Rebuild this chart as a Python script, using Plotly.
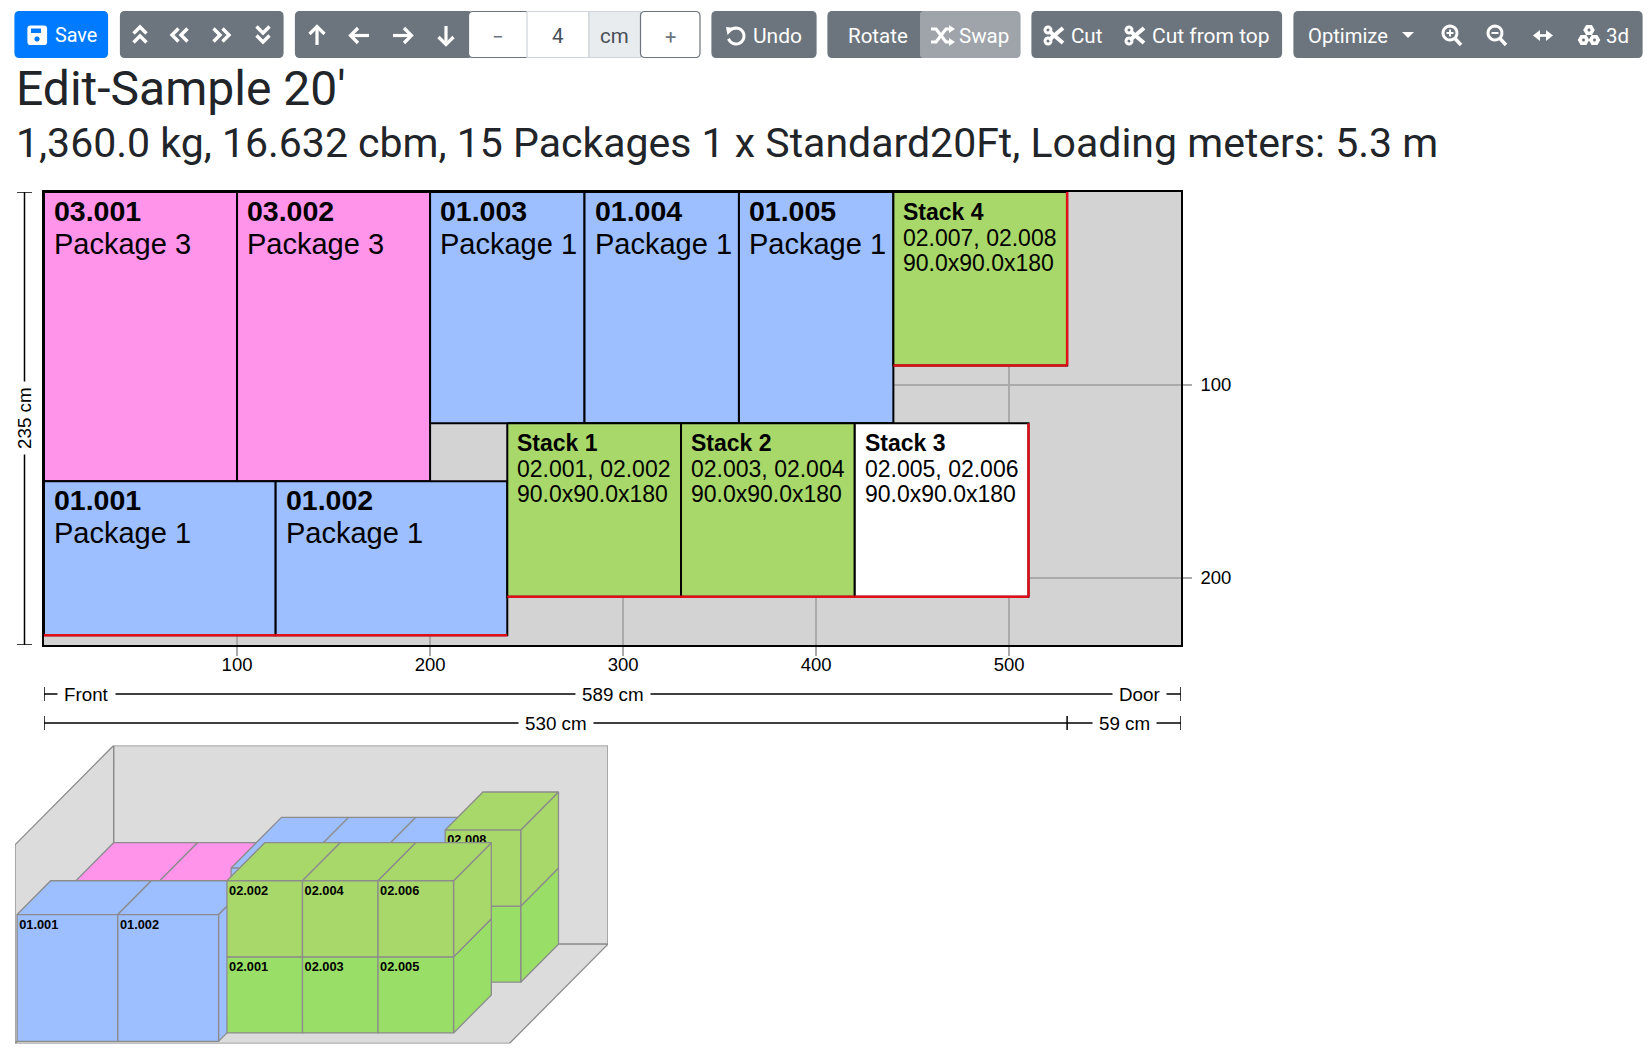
import numpy as np
import plotly.graph_objects as go

W, H = 1652, 1051

# packages, all in cm. y is measured from the top wall of the container in the plan
pkg_names = ['03.001', '03.002', '01.003', '01.004', '01.005', '01.001', '01.002']
pkg_types = ['Package 3', 'Package 3', 'Package 1', 'Package 1', 'Package 1', 'Package 1', 'Package 1']
pkg_x = [0, 100, 200, 280, 360, 0, 120]
pkg_y = [0, 0, 0, 0, 0, 150, 150]
pkg_len = [100, 100, 80, 80, 80, 120, 120]
pkg_wid = [150, 150, 120, 120, 120, 80, 80]
pkg_hgt = [120, 120, 150, 150, 150, 150, 150]
pkg_col = ['#ff94ea', '#ff94ea', '#9dbfff', '#9dbfff', '#9dbfff', '#9dbfff', '#9dbfff']

stack_names = ['Stack 1', 'Stack 2', 'Stack 3', 'Stack 4']
stack_items = ['02.001, 02.002', '02.003, 02.004', '02.005, 02.006', '02.007, 02.008']
stack_size = ['90.0x90.0x180', '90.0x90.0x180', '90.0x90.0x180', '90.0x90.0x180']
stack_x = [240, 330, 420, 440]
stack_y = [120, 120, 120, 0]
stack_len = [90, 90, 90, 90]
stack_wid = [90, 90, 90, 90]
stack_col = ['#a8d86a', '#a8d86a', '#ffffff', '#a8d86a']
# the 3d view only shows the labels that are not hidden by a box in front
stack_ids_low = ['02.001', '02.003', '02.005', '']
stack_ids_up = ['02.002', '02.004', '02.006', '02.008']
box_h = 90

cont_len, cont_wid, cont_hgt = 589, 235, 235
load_len = 530
free_len = 59
x_ticks = [100, 200, 300, 400, 500]
y_ticks = [100, 200]

GREEN_LOW = '#99df67'
GREEN_UP = '#a8d86a'
UI = 'Roboto'
CHART = 'Liberation Sans'
GREY = '#6c757d'


def X(p):
    return p / W


def Y(p):
    return 1 - p / H


fig = go.Figure()
shapes = []
notes = []


def rect_trace(x0, y0, l, w, col):
    fig.add_trace(go.Scatter(x=[x0, x0 + l, x0 + l, x0, x0], y=[y0, y0, y0 + w, y0 + w, y0],
                             mode='lines', fill='toself', fillcolor=col,
                             line=dict(color='black', width=2), hoverinfo='skip', xaxis='x', yaxis='y'))


def red_line(xs, ys):
    fig.add_trace(go.Scatter(x=xs, y=ys, mode='lines', line=dict(color='#e0101a', width=2.5),
                             hoverinfo='skip', xaxis='x', yaxis='y'))


def label(x, y, dx, dy, txt, size, bold=False):
    notes.append(dict(x=x, y=y, xref='x', yref='y', xshift=dx, yshift=-dy, text=txt, showarrow=False,
                      xanchor='left', yanchor='middle',
                      font=dict(family=CHART, size=size, color='black', weight='bold' if bold else 'normal')))


# container floor goes under the gridlines, otherwise it would hide them
shapes.append(dict(type='rect', xref='x', yref='y', x0=0, x1=cont_len, y0=0, y1=cont_wid, layer='below',
                   fillcolor='#d3d3d3', line=dict(width=0)))

# plan view
order = [0, 1, 2, 3, 4, 5, 6]
for i in order:
    rect_trace(pkg_x[i], pkg_y[i], pkg_len[i], pkg_wid[i], pkg_col[i])
    label(pkg_x[i], pkg_y[i], 8, 19, pkg_names[i], 28.5, True)
    label(pkg_x[i], pkg_y[i], 8, 51.5, pkg_types[i], 29)
for i in range(len(stack_names)):
    rect_trace(stack_x[i], stack_y[i], stack_len[i], stack_wid[i], stack_col[i])
    label(stack_x[i], stack_y[i], 8, 20, stack_names[i], 23, True)
    label(stack_x[i], stack_y[i], 8, 46, stack_items[i], 23)
    label(stack_x[i], stack_y[i], 8, 71, stack_size[i], 23)

# the red edge marks the door side of each block
for i in [5, 6]:
    red_line([pkg_x[i], pkg_x[i] + pkg_len[i]], [pkg_y[i] + pkg_wid[i]] * 2)
for i in range(len(stack_names)):
    red_line([stack_x[i], stack_x[i] + stack_len[i]], [stack_y[i] + stack_wid[i]] * 2)
for i in [2, 3]:
    red_line([stack_x[i] + stack_len[i]] * 2, [stack_y[i], stack_y[i] + stack_wid[i]])


# 3d view: oblique projection, depth goes half up and half right
def proj(x, y, z):
    d = cont_wid - y
    return x + d / 2, z + d / 2


def face(pts, col):
    uv = [proj(*p) for p in pts + pts[:1]]
    fig.add_trace(go.Scatter(x=[a for a, b in uv], y=[b for a, b in uv], mode='lines', fill='toself',
                             fillcolor=col, line=dict(color='#8c8c8c', width=1.3), hoverinfo='skip',
                             xaxis='x2', yaxis='y2'))


def box3d(x, y, z, l, w, h, col, name=''):
    x1, y1, z1 = x + l, y + w, z + h
    face([(x1, y1, z), (x1, y, z), (x1, y, z1), (x1, y1, z1)], col)
    face([(x, y1, z1), (x1, y1, z1), (x1, y, z1), (x, y, z1)], col)
    face([(x, y1, z), (x1, y1, z), (x1, y1, z1), (x, y1, z1)], col)
    if name:
        u, v = proj(x, y1, z1)
        fig.add_trace(go.Scatter(x=[u + 2.5], y=[v - 5.5], mode='text', text=[name], textposition='bottom right',
                                 textfont=dict(family=CHART, size=12.8, color='black', weight='bold'),
                                 hoverinfo='skip', xaxis='x2', yaxis='y2'))


WALL = '#dcdcdc'
face([(0, 0, 0), (cont_len, 0, 0), (cont_len, 0, cont_hgt), (0, 0, cont_hgt)], WALL)
face([(0, 0, 0), (0, cont_wid, 0), (0, cont_wid, cont_hgt), (0, 0, cont_hgt)], WALL)
face([(0, cont_wid, 0), (cont_len, cont_wid, 0), (cont_len, 0, 0), (0, 0, 0)], WALL)

for i in [0, 1, 2, 3, 4]:
    box3d(pkg_x[i], pkg_y[i], 0, pkg_len[i], pkg_wid[i], pkg_hgt[i], pkg_col[i])
for s in [3]:
    box3d(stack_x[s], stack_y[s], 0, stack_len[s], stack_wid[s], box_h, GREEN_LOW, stack_ids_low[s])
    box3d(stack_x[s], stack_y[s], box_h, stack_len[s], stack_wid[s], box_h, GREEN_UP, stack_ids_up[s])
for i in [5, 6]:
    box3d(pkg_x[i], pkg_y[i], 0, pkg_len[i], pkg_wid[i], pkg_hgt[i], pkg_col[i], pkg_names[i])
for s in [0, 1, 2]:
    box3d(stack_x[s], stack_y[s], 0, stack_len[s], stack_wid[s], box_h, GREEN_LOW, stack_ids_low[s])
    box3d(stack_x[s], stack_y[s], box_h, stack_len[s], stack_wid[s], box_h, GREEN_UP, stack_ids_up[s])


# dimension lines under and left of the plan
def dim_h(x0, x1, py):
    shapes.append(dict(type='line', xref='x', yref='paper', x0=x0, x1=x1, y0=Y(py), y1=Y(py),
                       line=dict(color='black', width=1.5)))


def dim_tick(x, py):
    shapes.append(dict(type='line', xref='x', yref='paper', x0=x, x1=x, y0=Y(py - 7), y1=Y(py + 7),
                       line=dict(color='black', width=1.5)))


def dim_text(x, py, txt, dx=0, anchor='center'):
    notes.append(dict(x=x, y=Y(py), xref='x', yref='paper', xshift=dx, text=txt, showarrow=False,
                      xanchor=anchor, yanchor='middle', bgcolor='white', borderpad=6,
                      font=dict(family=CHART, size=18.8, color='black')))


DIM1, DIM2 = 694, 723
dim_h(0, cont_len, DIM1)
dim_tick(0, DIM1)
dim_tick(cont_len, DIM1)
dim_text(cont_len / 2, DIM1, '%d cm' % cont_len)
dim_text(0, DIM1, 'Front', 13, 'left')
dim_text(cont_len, DIM1, 'Door', -14, 'right')
dim_h(0, cont_len, DIM2)
dim_tick(0, DIM2)
dim_tick(load_len, DIM2)
dim_tick(cont_len, DIM2)
dim_text(load_len / 2, DIM2, '%d cm' % load_len)
dim_text(load_len + free_len / 2, DIM2, '%d cm' % free_len)

shapes.append(dict(type='line', xref='paper', yref='y', x0=X(24.5), x1=X(24.5), y0=0, y1=cont_wid,
                   line=dict(color='black', width=1.5)))
for v in [0, cont_wid]:
    shapes.append(dict(type='line', xref='paper', yref='y', x0=X(17), x1=X(32), y0=v, y1=v,
                       line=dict(color='black', width=1.5)))
notes.append(dict(x=X(24.5), y=cont_wid / 2, xref='paper', yref='y', text='%d cm' % cont_wid, textangle=-90,
                  showarrow=False, bgcolor='white', borderpad=5, xanchor='center', yanchor='middle',
                  font=dict(family=CHART, size=18.8, color='black')))


# page chrome above the chart: buttons, headings
def round_rect(x0, y0, x1, y1, col, line=None, r=4.5):
    p = 'M%f,%f L%f,%f Q%f,%f %f,%f L%f,%f Q%f,%f %f,%f L%f,%f Q%f,%f %f,%f L%f,%f Q%f,%f %f,%f Z' % (
        X(x0 + r), Y(y0), X(x1 - r), Y(y0), X(x1), Y(y0), X(x1), Y(y0 + r),
        X(x1), Y(y1 - r), X(x1), Y(y1), X(x1 - r), Y(y1),
        X(x0 + r), Y(y1), X(x0), Y(y1), X(x0), Y(y1 - r),
        X(x0), Y(y0 + r), X(x0), Y(y0), X(x0 + r), Y(y0))
    shapes.append(dict(type='path', xref='paper', yref='paper', path=p, fillcolor=col,
                       line=dict(color=line or col, width=1.2)))


def stroke(pts, w=3, col='white'):
    p = 'M' + ' L'.join('%f,%f' % (X(a), Y(b)) for a, b in pts)
    shapes.append(dict(type='path', xref='paper', yref='paper', path=p, line=dict(color=col, width=w)))


def fill(pts, col='white'):
    p = 'M' + ' L'.join('%f,%f' % (X(a), Y(b)) for a, b in pts) + ' Z'
    shapes.append(dict(type='path', xref='paper', yref='paper', path=p, fillcolor=col, line=dict(width=0)))


def arc(cx, cy, r, a0=0, a1=360, n=24):
    t = np.radians(np.linspace(a0, a1, n))
    return [(cx + r * np.cos(k), cy + r * np.sin(k)) for k in t]


def ui_text(px, py, txt, size=20.5, col='white', anchor='left'):
    notes.append(dict(x=X(px), y=Y(py), xref='paper', yref='paper', text=txt, showarrow=False, xanchor=anchor,
                      yanchor='middle', font=dict(family=UI, size=size, color=col)))


TOP, BOT, MID = 11.5, 57.5, 35.5
round_rect(15, TOP, 107.5, BOT, '#007bff')
round_rect(120.5, TOP, 283, BOT, GREY)
round_rect(295.5, TOP, 472, BOT, GREY)
round_rect(712, TOP, 816, BOT, GREY)
round_rect(828, TOP, 925, BOT, GREY)
round_rect(920, TOP, 1020, BOT, '#9ea4aa')
shapes.append(dict(type='rect', xref='paper', yref='paper', x0=X(915), x1=X(920), y0=Y(BOT), y1=Y(TOP),
                   fillcolor=GREY, line=dict(width=0)))
round_rect(1032, TOP, 1281.5, BOT, GREY)
round_rect(1294, TOP, 1642, BOT, GREY)

# number input
round_rect(468.5, TOP, 530, BOT, 'white', GREY)
shapes.append(dict(type='rect', xref='paper', yref='paper', x0=X(527), x1=X(589), y0=Y(BOT), y1=Y(TOP),
                   fillcolor='white', line=dict(color='#ced4da', width=1.2)))
shapes.append(dict(type='rect', xref='paper', yref='paper', x0=X(589), x1=X(640.5), y0=Y(BOT), y1=Y(TOP),
                   fillcolor='#e9ecef', line=dict(color='#ced4da', width=1.2)))
round_rect(640.5, TOP, 700, BOT, 'white', GREY)
ui_text(497.5, MID + 1, '−', 20, '#6c757d', 'center')
ui_text(557.5, MID, '4', 20.5, '#495057', 'center')
ui_text(614.5, MID, 'cm', 20.5, '#495057', 'center')
ui_text(670, MID + 1, '+', 20, '#6c757d', 'center')

# floppy
round_rect(28, 26, 46.5, 44.5, 'white', r=2.5)
fill([(31, 28.5), (41, 28.5), (41, 33), (31, 33)], '#007bff')
fill(arc(37, 39, 2.6), '#007bff')
ui_text(52.5, MID, 'Save', 19.8)

# chevrons
for dy in (-5, 4):
    stroke([(133.5, 35 + dy + 3.5), (140, 35 + dy - 3), (146.5, 35 + dy + 3.5)], 3.4)
    stroke([(256.5, 35 + dy - 3.5), (263, 35 + dy + 3), (269.5, 35 + dy - 3.5)], 3.4)
for dx in (-5, 4):
    stroke([(180 + dx + 3.5, 28.5), (180 + dx - 3, 35), (180 + dx + 3.5, 41.5)], 3.4)
    stroke([(222 + dx - 3.5, 28.5), (222 + dx + 3, 35), (222 + dx - 3.5, 41.5)], 3.4)

# arrows
stroke([(317, 45), (317, 27)], 3.2)
stroke([(309.5, 34), (317, 26.5), (324.5, 34)], 3.2)
stroke([(369, 35.5), (351, 35.5)], 3.2)
stroke([(358, 28), (350.5, 35.5), (358, 43)], 3.2)
stroke([(393, 35.5), (411, 35.5)], 3.2)
stroke([(404, 28), (411.5, 35.5), (404, 43)], 3.2)
stroke([(446, 26), (446, 44)], 3.2)
stroke([(438.5, 37), (446, 44.5), (453.5, 37)], 3.2)

# undo
stroke(arc(736, 36, 8, -130, 160), 3)
fill([(726, 27), (734.5, 28), (727.5, 35)])
ui_text(751, MID, 'Undo', 21)
ui_text(846, MID, 'Rotate')

# swap
stroke([(931, 29), (936, 29), (946, 42), (950, 42)], 3.2)
stroke([(931, 42), (936, 42), (946, 29), (950, 29)], 3.2)
fill([(949, 25), (955, 29), (949, 33)])
fill([(949, 38), (955, 42), (949, 46)])
ui_text(957, MID, 'Swap')


def scissors(cx):
    stroke([(cx - 5, 31), (cx + 9, 43)], 4)
    stroke([(cx - 5, 40), (cx + 9, 28)], 4)
    stroke(arc(cx - 6, 30, 3), 3)
    stroke(arc(cx - 6, 41, 3), 3)


scissors(1054)
ui_text(1069, MID, 'Cut')
scissors(1135)
ui_text(1149.5, MID, 'Cut from top', 21)

ui_text(1306, MID, 'Optimize', 20.2)
fill([(1402, 32), (1414, 32), (1408, 38)])


def lens(cx, sym):
    stroke(arc(cx - 1, 33, 7), 3)
    stroke([(cx + 4, 38.5), (cx + 10, 45)], 3.4)
    stroke([(cx - 4.5, 33), (cx + 2.5, 33)], 2)
    if sym == '+':
        stroke([(cx - 1, 29.5), (cx - 1, 36.5)], 2)


lens(1451, '+')
lens(1496, '-')
stroke([(1535, 35.5), (1551, 35.5)], 2.6)
fill([(1540, 30), (1533, 35.5), (1540, 41)])
fill([(1546, 30), (1553, 35.5), (1546, 41)])
for a, b in [(1589, 30), (1583.5, 40), (1594.5, 40)]:
    fill(arc(a, b, 5.8, n=7))
    fill(arc(a, b, 1.6, n=7), GREY)
ui_text(1604, MID, '3d')

notes.append(dict(x=X(14), y=Y(89), xref='paper', yref='paper', text="Edit-Sample 20'", showarrow=False,
                  xanchor='left', yanchor='middle', font=dict(family=UI, size=48, color='#212529')))
notes.append(dict(x=X(14), y=Y(142.5), xref='paper', yref='paper',
                  text='1,360.0 kg, 16.632 cbm, 15 Packages 1 x Standard20Ft, Loading meters: 5.3 m',
                  showarrow=False, xanchor='left', yanchor='middle', font=dict(family=UI, size=41, color='#212529')))

axis_font = dict(family=CHART, size=18.5, color='black')
fig.update_layout(
    width=W, height=H, margin=dict(l=0, r=0, t=0, b=0), showlegend=False,
    paper_bgcolor='white', plot_bgcolor='white', shapes=shapes, annotations=notes,
    xaxis=dict(domain=[X(44), X(1181)], range=[0, cont_len], tickvals=x_ticks, ticks='outside', ticklen=9,
               tickwidth=2, tickcolor='#aaaaaa', showgrid=True, gridcolor='#aaaaaa', gridwidth=2, zeroline=False,
               showline=True, linecolor='black', linewidth=1.5, mirror=True, tickfont=axis_font, anchor='y',
               ticklabelstandoff=-7),
    yaxis=dict(domain=[Y(645), Y(192)], range=[cont_wid, 0], side='right', tickvals=y_ticks, ticks='outside',
               ticklen=9, tickwidth=2, tickcolor='#aaaaaa', showgrid=True, gridcolor='#aaaaaa', gridwidth=2,
               zeroline=False, showline=True, linecolor='black', linewidth=1.5, mirror=True, tickfont=axis_font,
               anchor='x', ticklabelstandoff=5),
    xaxis2=dict(domain=[X(15), X(608)], range=[0, cont_len + cont_wid / 2], visible=False, anchor='y2'),
    yaxis2=dict(domain=[Y(1043.5), Y(745.5)], range=[0, cont_hgt + cont_wid / 2], visible=False, anchor='x2'),
)

fig.write_html("out.html", config=dict(displayModeBar=False), post_script="document.body.style.margin='0';")
